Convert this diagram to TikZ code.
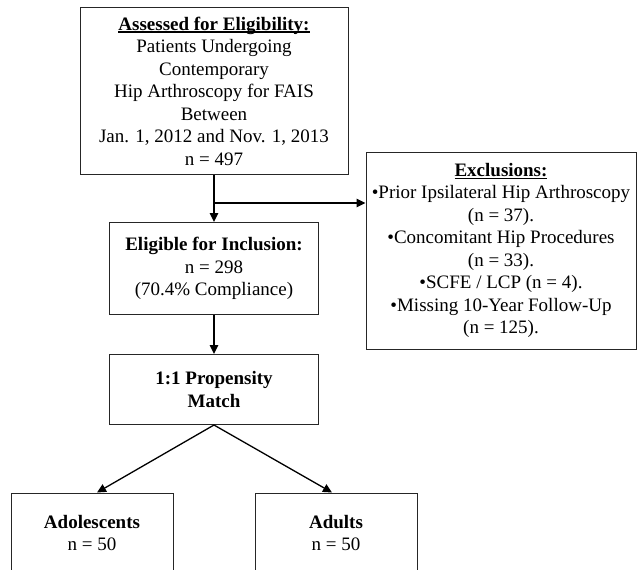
\documentclass[tikz,border=0pt]{standalone}
\usepackage{fontspec}
\setmainfont{Liberation Serif}
\usetikzlibrary{arrows.meta}
\usetikzlibrary{positioning}
\tikzstyle{block} = [rectangle, draw=black!85, line width=1pt, inner sep=0pt,
align=center, font=\fontsize{19}{22.5}\selectfont]
\tikzstyle{arrow} = [line width=1.3pt,-{Triangle[length=9pt,width=8.5pt]}]
\newcommand{\ulhead}[1]{\setbox0\hbox{\textbf{#1}}\rlap{\rule[-2.5pt]{\wd0}{1.1pt}}\box0}

\begin{document}
\begin{tikzpicture}[x=1pt, y=-1pt, node distance=47pt]
  \clip (0,0) rectangle (637,570);
  \node (assessed) [block, minimum width=268pt, minimum height=167pt] at (214,91)
  {\ulhead{Assessed for Eligibility:}\\ Patients Undergoing\\ Contemporary\\
  Hip Arthroscopy for FAIS\\ Between\\ Jan. 1, 2012 and Nov. 1, 2013\\ n = 497};
  \node (eligible) [block, minimum width=209pt, minimum height=92pt, below=of assessed]
  {\textbf{Eligible for Inclusion:}\\ n = 298\\ (70.4\% Compliance)};
  \node (match) [block, minimum width=209pt, minimum height=70pt, below=39pt of eligible]
  {\textbf{1:1 Propensity}\\ \textbf{Match}};
  \node (excl) [block, minimum width=270pt, minimum height=197pt] at (501,250.5)
  {\ulhead{Exclusions:}\\ •Prior Ipsilateral Hip Arthroscopy\\ (n = 37).\\
  •Concomitant Hip Procedures\\ (n = 33).\\ •SCFE / LCP (n = 4).\\
  •Missing 10-Year Follow-Up\\ (n = 125).};
  \node (adol) [block, minimum width=162pt, minimum height=80pt] at (92,533)
  {\textbf{Adolescents}\\ n = 50};
  \node (adults) [block, minimum width=162pt, minimum height=80pt] at (336,533)
  {\textbf{Adults}\\ n = 50};

  \coordinate (split) at ([yshift=-28pt]assessed.south);
  \draw[arrow] (assessed.south) -- (eligible.north);
  \draw[arrow] (split) -- (split -| excl.west);
  \draw[arrow] (eligible.south) -- (match.north);
  \draw[arrow] (match.south) -- ([xshift=5pt]adol.north);
  \draw[arrow] (match.south) -- ([xshift=-4pt]adults.north);
\end{tikzpicture}
\end{document}
